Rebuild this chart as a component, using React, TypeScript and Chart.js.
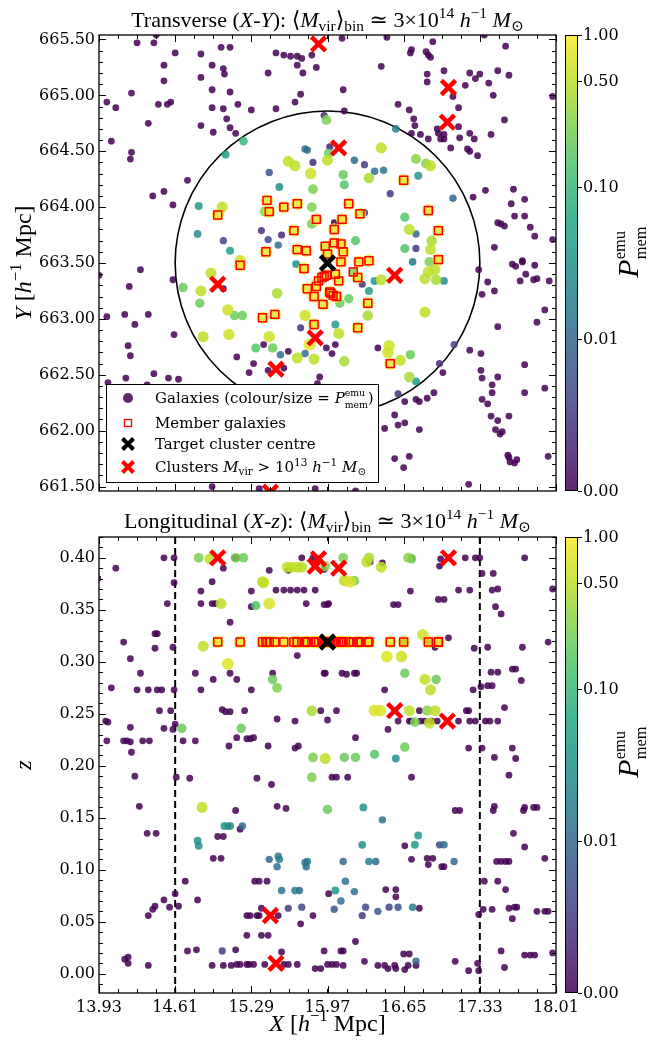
import React, { useEffect, useRef } from 'react';
import { Chart, registerables } from 'chart.js';
Chart.register(...registerables);

// ---------------- axes / ticks ----------------
const X_RANGE = [13.93, 18.01];
const Y_RANGE = [661.46, 665.54];
const Z_RANGE = [-0.0185, 0.42];
const X_TICKS = [13.93, 14.61, 15.29, 15.97, 16.65, 17.33, 18.01];
const X_TICK_LABELS = ['13.93', '14.61', '15.29', '15.97', '16.65', '17.33', '18.01'];
const Y_TICKS = [661.5, 662.0, 662.5, 663.0, 663.5, 664.0, 664.5, 665.0, 665.5];
const Y_TICK_LABELS = ['661.50', '662.00', '662.50', '663.00', '663.50', '664.00', '664.50', '665.00', '665.50'];
const Z_TICKS = [0, 0.05, 0.1, 0.15, 0.2, 0.25, 0.3, 0.35, 0.4];
const Z_TICK_LABELS = ['0.00', '0.05', '0.10', '0.15', '0.20', '0.25', '0.30', '0.35', '0.40'];
const CB_TICKS = [0, 0.01, 0.1, 0.5, 1];
const CB_TICK_LABELS = ['0.00', '0.01', '0.10', '0.50', '1.00'];
const CB_LINTHRESH = 0.01;

// ---------------- target / aperture ----------------
const TARGET_X = 15.97;
const TARGET_Y = 663.5;
const TARGET_Z = 0.319;
const APERTURE_R = 1.36;
const LOS_BOUNDS = [14.61, 17.33];

// ---------------- clusters (M_vir > 1e13) ----------------
const CLUSTER_X = [15.89, 17.05, 17.04, 16.07, 14.99, 16.57, 15.86, 15.51, 15.46];
const CLUSTER_Y = [665.46, 665.07, 664.76, 664.53, 663.31, 663.39, 662.83, 662.55, 661.45];
const CLUSTER_Z = [0.399, 0.4, 0.243, 0.39, 0.4, 0.253, 0.392, 0.01, 0.056];

// ---------------- member galaxies [X, Y, P] ----------------
const MEMBERS: [number, number, number][] = [
  [14.99, 663.93, 0.85], [15.43, 664.06, 0.85], [15.45, 663.96, 0.8], [15.58, 664.0, 0.85], [15.7, 664.03, 0.85],
  [15.87, 663.89, 0.9], [15.67, 663.79, 0.85], [15.7, 663.62, 0.9], [15.78, 663.61, 0.9], [15.95, 663.65, 0.6],
  [15.97, 663.58, 0.9], [16.65, 664.24, 0.85], [16.16, 664.03, 0.85], [16.26, 663.94, 0.85], [16.1, 663.89, 0.85],
  [16.03, 663.8, 0.85], [16.87, 663.97, 0.85], [16.96, 663.79, 0.85], [16.03, 663.68, 0.9], [16.09, 663.67, 0.9],
  [16.96, 663.53, 0.85], [15.19, 663.48, 0.85], [15.39, 663.01, 0.85], [15.5, 663.04, 0.85], [15.85, 662.95, 0.8],
  [15.79, 663.27, 0.9], [15.87, 663.29, 0.9], [15.85, 663.2, 0.9], [15.93, 663.13, 0.9], [15.89, 663.34, 0.9],
  [15.92, 663.37, 0.9], [15.94, 663.38, 0.9], [15.99, 663.24, 0.9], [16.09, 663.51, 0.9], [16.25, 663.51, 0.85],
  [16.34, 663.52, 0.85], [16.2, 663.42, 0.25], [16.24, 663.37, 0.85], [16.04, 663.4, 0.9], [16.07, 663.34, 0.9],
  [15.96, 663.39, 0.9], [16.0, 663.23, 0.9], [16.02, 663.21, 0.9], [16.05, 663.2, 0.9], [16.33, 663.14, 0.85],
  [16.24, 662.92, 0.85], [16.53, 662.6, 0.85], [15.42, 663.6, 0.85], [15.76, 663.45, 0.9], [16.11, 663.6, 0.9],
];

// ---------------- transverse field galaxies [X, Y, P] ----------------
const TRANSVERSE_GALAXIES: [number, number, number][] = [
  [14.44, 665.54, 0], [14.27, 665.47, 0], [14.42, 665.47, 0], [14.61, 665.38, 0], [14.84, 665.37, 0], [15.02, 665.43, 0],
  [15.1, 665.43, 0], [15.51, 665.38, 0], [15.58, 665.36, 0], [15.64, 665.35, 0], [15.7, 665.35, 0], [15.74, 665.33, 0],
  [15.83, 665.36, 0], [14.51, 665.27, 0], [14.94, 665.27, 0], [15.04, 665.24, 0], [15.05, 665.19, 0], [14.84, 665.16, 0],
  [14.51, 665.13, 0], [15.44, 665.2, 0], [15.7, 665.27, 0], [15.75, 665.2, 0], [15.87, 665.25, 0], [14.22, 665.02, 0],
  [14.94, 665.05, 0], [15.1, 665.03, 0], [15.73, 665.01, 0], [14.0, 664.94, 0], [14.08, 664.89, 0], [14.46, 664.92, 0],
  [14.54, 664.92, 0], [14.57, 664.94, 0], [14.94, 664.89, 0], [15.04, 664.88, 0], [15.17, 664.92, 0], [15.29, 664.87, 0],
  [15.51, 664.88, 0], [15.68, 664.94, 0], [14.37, 664.75, 0], [15.07, 664.79, 0], [14.84, 664.73, 0], [15.1, 664.71, 0],
  [15.15, 664.66, 0], [14.95, 664.67, 0], [14.04, 664.59, 0], [14.22, 664.49, 0], [14.21, 664.43, 0], [14.72, 664.24, 0],
  [14.41, 664.1, 0], [14.51, 664.14, 0], [14.59, 664.02, 0], [15.94, 664.82, 0.003],
  [16.1, 665.51, 0], [16.5, 665.52, 0], [16.72, 665.41, 0], [16.71, 665.38, 0], [16.91, 665.48, 0], [16.85, 665.39, 0],
  [16.87, 665.36, 0], [16.89, 665.34, 0], [17.37, 665.54, 0], [17.56, 665.44, 0], [16.45, 665.26, 0], [16.86, 665.19, 0],
  [16.86, 665.12, 0], [17.01, 665.22, 0], [17.24, 665.2, 0], [17.29, 665.15, 0], [17.33, 665.19, 0], [17.49, 665.22, 0],
  [17.59, 665.18, 0], [17.41, 665.11, 0], [17.2, 665.09, 0], [17.09, 664.99, 0], [17.45, 665.0, 0], [17.98, 664.99, 0],
  [16.11, 665.05, 0], [16.12, 664.86, 0], [16.6, 664.92, 0], [16.7, 664.87, 0], [16.74, 664.79, 0], [16.75, 664.73, 0],
  [16.72, 664.66, 0], [16.8, 664.65, 0], [16.87, 664.61, 0], [16.95, 664.7, 0], [16.96, 664.66, 0], [16.98, 664.61, 0],
  [17.01, 664.61, 0], [17.01, 664.65, 0], [17.14, 664.89, 0], [17.14, 664.72, 0], [17.15, 664.62, 0], [17.07, 664.53, 0],
  [17.24, 664.66, 0], [17.28, 664.61, 0], [17.22, 664.52, 0], [17.24, 664.5, 0], [17.31, 664.46, 0], [17.43, 664.65, 0],
  [17.55, 664.78, 0], [17.27, 664.09, 0], [17.38, 664.15, 0], [17.63, 664.16, 0], [17.61, 664.03, 0], [17.73, 664.07, 0],
  [17.64, 663.92, 0], [17.73, 663.92, 0], [17.49, 663.86, 0], [17.52, 663.85, 0], [17.55, 663.83, 0], [17.78, 663.82, 0],
  [17.82, 663.74, 0], [17.98, 663.71, 0], [17.46, 663.64, 0], [17.71, 663.52, 0], [15.99, 664.54, 0.003], [16.03, 663.86, 0],
  [14.3, 663.44, 0], [14.2, 663.29, 0], [14.59, 663.35, 0], [14.0, 663.02, 0], [14.16, 663.04, 0], [14.25, 662.95, 0],
  [14.37, 663.04, 0], [14.6, 662.86, 0], [14.19, 662.76, 0], [14.21, 662.67, 0], [14.01, 662.43, 0], [14.17, 662.47, 0],
  [14.42, 662.51, 0], [14.55, 662.47, 0], [14.64, 662.46, 0], [14.36, 662.41, 0], [13.93, 663.39, 0], [15.16, 662.66, 0],
  [15.27, 662.52, 0], [15.31, 662.6, 0], [15.04, 663.27, 0], [14.94, 661.5, 0], [15.36, 661.48, 0], [15.86, 661.48, 0],
  [15.62, 662.71, 0], [15.4, 662.77, 0], [15.44, 662.54, 0], [15.58, 662.56, 0], [15.88, 662.42, 0], [15.9, 662.48, 0],
  [15.96, 662.74, 0], [15.73, 662.92, 0.004],
  [17.32, 663.44, 0], [17.4, 663.33, 0], [17.35, 663.22, 0], [17.46, 663.25, 0], [17.49, 662.93, 0], [17.62, 663.49, 0],
  [17.65, 663.47, 0], [17.71, 663.51, 0], [17.74, 663.4, 0], [17.82, 663.48, 0], [17.81, 663.35, 0], [17.84, 663.36, 0],
  [17.69, 663.34, 0], [17.95, 663.34, 0], [17.91, 663.08, 0], [17.84, 662.97, 0], [17.24, 662.72, 0], [17.34, 662.69, 0],
  [17.73, 662.59, 0], [17.34, 662.54, 0], [17.35, 662.47, 0], [17.49, 662.48, 0], [17.44, 662.41, 0], [17.44, 662.34, 0],
  [17.35, 662.28, 0], [17.4, 662.24, 0], [17.43, 662.13, 0], [17.49, 662.09, 0], [17.59, 662.13, 0], [17.47, 662.01, 0],
  [17.51, 661.97, 0], [17.53, 661.99, 0], [17.91, 662.38, 0], [17.73, 662.34, 0], [17.58, 661.78, 0], [17.59, 661.76, 0],
  [17.6, 661.72, 0], [17.64, 661.71, 0], [17.66, 661.74, 0], [17.94, 661.77, 0], [17.23, 661.52, 0], [16.22, 661.46, 0],
  [17.0, 662.52, 0], [16.92, 662.34, 0], [16.86, 662.29, 0], [16.79, 662.26, 0], [16.76, 662.28, 0], [16.66, 662.26, 0],
  [16.57, 662.14, 0], [16.6, 662.05, 0], [16.66, 662.07, 0], [16.79, 662.01, 0], [16.48, 662.02, 0], [16.57, 661.75, 0],
  [16.7, 661.77, 0], [16.65, 661.67, 0], [16.42, 662.74, 0], [16.04, 662.77, 0], [16.01, 662.69, 0],
  [16.97, 662.6, 0.004], [16.6, 662.33, 0.004], [16.28, 663.31, 0.004], [17.1, 662.77, 0.006],
  // coloured galaxies inside the aperture
  [15.96, 664.78, 0.25], [15.22, 664.59, 0.1], [15.06, 664.47, 0.04], [15.77, 664.52, 0.012], [15.79, 664.51, 0.01],
  [15.84, 664.4, 0.004], [15.98, 664.48, 0.2], [15.97, 664.42, 0.5], [15.62, 664.41, 0.5], [15.68, 664.37, 0.5],
  [15.82, 664.3, 0.6], [15.45, 664.31, 0.008], [15.54, 664.18, 0.03], [15.84, 664.16, 0.25], [14.82, 664.01, 0.04],
  [15.03, 664.0, 0.5], [15.83, 664.0, 0.25], [15.41, 663.96, 0.3], [15.83, 663.85, 0.25], [14.81, 663.76, 0.025],
  [15.38, 663.79, 0.004], [15.44, 663.71, 0.006], [15.56, 663.75, 0.003], [15.53, 663.66, 0.012], [15.04, 663.7, 0.006],
  [15.1, 663.61, 0.05], [15.19, 663.52, 0.6],
  [16.58, 664.7, 0.02], [16.21, 664.42, 0.01], [16.3, 664.38, 0.005], [16.39, 664.32, 0.012], [16.47, 664.33, 0.015],
  [16.45, 664.53, 0.5], [16.76, 664.43, 0.3], [16.85, 664.39, 0.3], [16.89, 664.37, 0.5], [16.78, 664.28, 0.04],
  [16.11, 664.29, 0.2], [16.12, 664.2, 0.15], [16.34, 664.26, 0.4], [16.53, 664.12, 0.005], [17.09, 664.08, 0.01],
  [16.3, 663.95, 0.005], [16.66, 663.91, 0.15], [16.7, 663.8, 0.5], [16.76, 663.76, 0.01], [16.9, 663.7, 0.4],
  [16.89, 663.62, 0.5], [16.66, 663.63, 0.15], [16.76, 663.63, 0.005], [16.22, 663.7, 0.15],
  [14.93, 663.41, 0.5], [14.84, 663.25, 0.5], [14.68, 663.28, 0.2], [14.83, 663.14, 0.2], [15.08, 663.08, 0.6],
  [15.14, 663.03, 0.2], [15.21, 663.03, 0.2], [14.86, 662.84, 0.5], [15.09, 662.86, 0.6], [15.52, 663.23, 0.4],
  [15.45, 662.84, 0.6], [15.33, 662.74, 0.15], [15.48, 662.74, 0.2], [15.55, 662.68, 0.012], [15.77, 662.69, 0.012],
  [15.7, 662.65, 0.5], [15.85, 662.64, 0.5], [15.77, 663.03, 0.6], [15.69, 663.49, 0.03], [15.81, 662.77, 0.8],
  [16.73, 663.51, 0.015], [17.01, 663.34, 0.03], [16.88, 663.51, 0.25], [16.93, 663.44, 0.5], [16.84, 663.36, 0.5],
  [16.87, 663.42, 0.5], [16.94, 663.35, 0.4], [16.39, 663.34, 0.04], [16.45, 663.35, 0.5], [16.34, 663.25, 0.04],
  [16.16, 663.18, 0.2], [16.08, 663.14, 0.2], [16.33, 663.03, 0.4], [16.84, 663.06, 0.5], [16.04, 662.95, 0.04],
  [16.07, 662.87, 0.5], [16.52, 662.76, 0.6], [16.51, 662.7, 0.6], [16.62, 662.63, 0.5], [16.71, 662.68, 0.2],
  [16.12, 662.62, 0.4], [16.7, 662.48, 0.4], [16.76, 662.44, 0.04],
];

// ---------------- longitudinal field galaxies [X, z, P] ----------------
const LONGITUDINAL_GALAXIES: [number, number, number][] = [
  [14.51, 0.4, 0], [14.6, 0.4, 0], [15.14, 0.4, 0], [15.16, 0.4, 0], [15.74, 0.4, 0], [15.84, 0.4, 0], [14.08, 0.39, 0],
  [15.04, 0.39, 0], [15.45, 0.388, 0], [15.62, 0.388, 0], [15.94, 0.389, 0], [14.6, 0.376, 0], [13.92, 0.38, 0],
  [14.94, 0.377, 0], [14.84, 0.368, 0], [15.29, 0.368, 0], [15.51, 0.369, 0], [15.58, 0.369, 0], [15.64, 0.369, 0],
  [15.7, 0.369, 0], [15.76, 0.369, 0], [15.86, 0.369, 0], [14.54, 0.356, 0], [14.84, 0.356, 0], [14.94, 0.356, 0],
  [14.97, 0.356, 0], [15.29, 0.353, 0], [15.78, 0.356, 0], [15.94, 0.355, 0], [15.97, 0.355, 0], [15.1, 0.338, 0],
  [14.43, 0.327, 0], [14.45, 0.327, 0], [14.15, 0.319, 0], [14.43, 0.313, 0], [14.59, 0.314, 0], [15.7, 0.306, 0],
  [14.21, 0.303, 0], [14.3, 0.289, 0], [14.79, 0.289, 0], [15.1, 0.289, 0], [15.48, 0.289, 0], [15.94, 0.289, 0],
  [14.95, 0.283, 0], [15.16, 0.283, 0], [14.04, 0.275, 0], [14.27, 0.273, 0], [14.37, 0.273, 0], [14.45, 0.273, 0],
  [14.49, 0.273, 0], [14.6, 0.273, 0], [14.84, 0.273, 0], [15.29, 0.273, 0], [14.47, 0.253, 0], [14.57, 0.253, 0],
  [15.03, 0.254, 0], [15.06, 0.252, 0], [15.1, 0.252, 0], [15.23, 0.253, 0], [15.91, 0.253, 0], [13.99, 0.243, 0],
  [14.01, 0.242, 0], [15.52, 0.245, 0], [15.68, 0.243, 0], [15.97, 0.244, 0], [14.21, 0.237, 0], [14.51, 0.236, 0],
  [14.59, 0.235, 0], [14.61, 0.24, 0], [14.0, 0.224, 0], [14.15, 0.224, 0], [14.18, 0.224, 0], [14.21, 0.223, 0],
  [14.32, 0.224, 0], [14.38, 0.224, 0], [14.68, 0.224, 0], [14.79, 0.224, 0], [15.16, 0.227, 0], [15.25, 0.226, 0],
  [15.28, 0.226, 0], [15.31, 0.227, 0], [15.09, 0.219, 0], [15.44, 0.219, 0], [15.68, 0.217, 0], [15.71, 0.219, 0],
  [14.22, 0.213, 0], [14.25, 0.19, 0], [14.62, 0.189, 0], [14.74, 0.188, 0], [15.34, 0.188, 0], [15.47, 0.182, 0],
  [14.29, 0.161, 0], [15.15, 0.157, 0], [15.52, 0.161, 0], [15.6, 0.159, 0], [15.08, 0.142, 0], [15.19, 0.139, 0],
  [14.36, 0.135, 0], [14.44, 0.135, 0], [14.99, 0.132, 0], [15.04, 0.132, 0], [14.95, 0.111, 0], [15.02, 0.111, 0],
  [14.7, 0.089, 0], [15.32, 0.089, 0], [15.36, 0.089, 0], [15.43, 0.089, 0], [15.98, 0.077, 0], [14.61, 0.077, 0],
  [14.51, 0.071, 0], [14.56, 0.064, 0], [14.64, 0.065, 0], [14.81, 0.071, 0], [14.43, 0.065, 0], [14.41, 0.062, 0],
  [14.37, 0.056, 0], [15.38, 0.063, 0], [15.25, 0.056, 0], [15.28, 0.056, 0], [15.34, 0.056, 0], [15.36, 0.056, 0],
  [15.53, 0.056, 0], [15.84, 0.056, 0], [15.73, 0.048, 0], [15.25, 0.037, 0], [15.38, 0.037, 0], [15.44, 0.037, 0],
  [14.72, 0.022, 0], [14.8, 0.023, 0], [15.15, 0.023, 0], [15.56, 0.021, 0], [15.94, 0.022, 0],
  [14.16, 0.014, 0], [14.19, 0.016, 0], [14.19, 0.01, 0], [14.37, 0.008, 0], [14.94, 0.008, 0], [15.04, 0.008, 0],
  [15.11, 0.008, 0], [15.16, 0.009, 0], [15.19, 0.009, 0], [15.25, 0.009, 0], [15.27, 0.009, 0], [15.31, 0.009, 0],
  [15.41, 0.009, 0], [15.58, 0.009, 0], [15.62, 0.009, 0], [15.7, 0.009, 0], [15.86, 0.005, 0], [15.91, 0.005, 0],
  [15.97, 0.009, 0],
  [17.2, 0.4, 0], [17.29, 0.4, 0], [17.33, 0.4, 0], [16.98, 0.399, 0], [16.72, 0.4, 0], [17.73, 0.4, 0], [16.35, 0.396, 0],
  [16.46, 0.395, 0], [16.97, 0.392, 0], [17.35, 0.385, 0], [17.45, 0.385, 0], [16.71, 0.368, 0], [17.14, 0.369, 0],
  [17.24, 0.369, 0], [17.44, 0.369, 0], [17.49, 0.37, 0], [17.98, 0.37, 0], [16.96, 0.36, 0], [17.01, 0.36, 0],
  [15.98, 0.356, 0], [16.56, 0.355, 0], [16.6, 0.355, 0], [17.47, 0.353, 0], [17.52, 0.346, 0], [16.65, 0.319, 0],
  [16.87, 0.319, 0], [16.93, 0.314, 0], [17.05, 0.323, 0], [17.28, 0.313, 0], [17.4, 0.314, 0], [17.71, 0.314, 0],
  [17.94, 0.319, 0], [15.95, 0.289, 0], [16.1, 0.289, 0], [16.14, 0.288, 0], [16.21, 0.289, 0], [16.23, 0.289, 0],
  [16.48, 0.273, 0], [17.27, 0.273, 0], [17.34, 0.276, 0], [17.4, 0.277, 0], [17.44, 0.277, 0], [17.43, 0.29, 0],
  [17.49, 0.29, 0], [17.62, 0.293, 0], [17.65, 0.293, 0], [17.7, 0.282, 0], [16.05, 0.253, 0], [16.79, 0.253, 0],
  [17.21, 0.253, 0], [17.23, 0.253, 0], [17.55, 0.256, 0], [16.6, 0.243, 0], [16.7, 0.243, 0], [16.72, 0.243, 0],
  [16.8, 0.243, 0], [16.84, 0.243, 0], [16.9, 0.243, 0], [16.95, 0.243, 0], [17.14, 0.243, 0], [17.24, 0.243, 0],
  [17.29, 0.243, 0], [17.38, 0.243, 0], [17.42, 0.243, 0], [17.49, 0.243, 0], [16.51, 0.235, 0], [16.22, 0.227, 0],
  [17.23, 0.217, 0], [17.35, 0.217, 0], [17.62, 0.217, 0], [17.65, 0.207, 0], [17.46, 0.208, 0], [16.01, 0.189, 0],
  [16.05, 0.189, 0], [16.15, 0.189, 0], [16.72, 0.189, 0], [17.59, 0.191, 0], [17.11, 0.157, 0], [17.15, 0.157, 0],
  [17.46, 0.161, 0], [17.45, 0.157, 0], [17.73, 0.16, 0], [17.72, 0.157, 0], [17.81, 0.16, 0], [17.84, 0.16, 0],
  [17.63, 0.135, 0], [17.73, 0.122, 0], [16.66, 0.123, 0], [16.72, 0.11, 0], [16.86, 0.111, 0], [16.91, 0.111, 0],
  [16.87, 0.105, 0], [16.99, 0.103, 0], [17.01, 0.103, 0], [17.48, 0.108, 0], [17.52, 0.108, 0], [17.56, 0.108, 0],
  [17.59, 0.108, 0], [17.91, 0.111, 0], [17.37, 0.089, 0], [17.49, 0.089, 0], [17.56, 0.081, 0], [16.49, 0.081, 0],
  [16.58, 0.081, 0], [16.58, 0.074, 0], [16.79, 0.063, 0], [17.32, 0.057, 0], [17.36, 0.062, 0], [17.44, 0.062, 0],
  [17.59, 0.063, 0], [17.64, 0.064, 0], [17.66, 0.064, 0], [17.62, 0.053, 0], [17.84, 0.06, 0], [17.91, 0.06, 0],
  [17.94, 0.06, 0], [16.22, 0.031, 0], [16.09, 0.022, 0], [16.11, 0.022, 0], [16.65, 0.019, 0], [16.7, 0.019, 0],
  [17.52, 0.022, 0], [17.73, 0.018, 0], [17.78, 0.018, 0], [17.82, 0.018, 0], [17.98, 0.02, 0], [16.01, 0.009, 0],
  [16.05, 0.009, 0], [16.11, 0.008, 0], [16.3, 0.012, 0], [16.42, 0.008, 0], [16.48, 0.008, 0], [16.51, 0.005, 0],
  [16.57, 0.008, 0], [16.58, 0.005, 0], [16.66, 0.004, 0], [16.69, 0.008, 0], [16.76, 0.008, 0], [17.11, 0.012, 0],
  [17.23, 0.003, 0], [17.31, 0.01, 0], [17.32, 0.003, 0], [17.55, 0.006, 0],
  // coloured
  [14.82, 0.4, 0.25], [14.92, 0.399, 0.5], [15.15, 0.4, 0.25], [15.22, 0.4, 0.2], [15.61, 0.391, 0.5], [15.65, 0.391, 0.5],
  [15.7, 0.391, 0.5], [15.74, 0.391, 0.5], [15.95, 0.392, 0.3], [15.39, 0.377, 0.5], [15.4, 0.376, 0.5], [15.02, 0.356, 0.5],
  [15.33, 0.354, 0.15], [15.45, 0.356, 0.7], [14.86, 0.315, 0.5], [15.08, 0.298, 0.7], [15.48, 0.283, 0.2],
  [15.52, 0.275, 0.25], [15.83, 0.253, 0.4], [14.67, 0.236, 0.2], [15.2, 0.236, 0.2], [15.84, 0.208, 0.25],
  [15.95, 0.207, 0.5], [15.83, 0.189, 0.25], [14.85, 0.16, 0.5], [15.97, 0.158, 0.2], [15.05, 0.142, 0.04],
  [15.1, 0.142, 0.04], [15.21, 0.142, 0.012], [14.81, 0.128, 0.03], [14.82, 0.123, 0.03], [15.45, 0.11, 0.01],
  [15.53, 0.113, 0.015], [15.54, 0.11, 0.02], [15.52, 0.103, 0.012], [15.77, 0.107, 0.015], [15.78, 0.103, 0.012],
  [15.79, 0.108, 0.015], [15.56, 0.08, 0.015], [15.68, 0.08, 0.02], [15.72, 0.08, 0.01], [15.62, 0.063, 0.005],
  [15.74, 0.064, 0.006], [15.03, 0.022, 0.005],
  [16.11, 0.4, 0.25], [16.34, 0.4, 0.4], [16.32, 0.396, 0.5], [16.69, 0.4, 0.3], [16.72, 0.399, 0.2], [16.45, 0.391, 0.5],
  [16.12, 0.378, 0.5], [16.17, 0.377, 0.7], [16.21, 0.378, 0.25], [16.82, 0.326, 0.6], [16.5, 0.305, 0.7],
  [16.63, 0.305, 0.6], [16.66, 0.289, 0.2], [16.84, 0.283, 0.5], [16.89, 0.273, 0.5], [16.94, 0.283, 0.2],
  [16.39, 0.253, 0.7], [16.44, 0.253, 0.7], [16.7, 0.253, 0.5], [16.86, 0.253, 0.3], [16.93, 0.253, 0.5],
  [16.75, 0.242, 0.25], [16.88, 0.241, 0.5], [16.66, 0.218, 0.2], [16.58, 0.207, 0.03], [16.39, 0.211, 0.15],
  [16.22, 0.208, 0.2], [16.12, 0.208, 0.2], [16.29, 0.16, 0.03], [16.46, 0.148, 0.012], [16.78, 0.133, 0.04],
  [16.75, 0.124, 0.04], [16.28, 0.124, 0.03], [16.97, 0.124, 0.006], [17.01, 0.124, 0.012], [16.34, 0.108, 0.02],
  [16.4, 0.108, 0.012], [16.11, 0.108, 0.01], [17.1, 0.108, 0.01], [16.13, 0.089, 0.012], [16.04, 0.08, 0.04],
  [16.21, 0.079, 0.012], [16.09, 0.07, 0.012], [16.03, 0.062, 0.008], [16.31, 0.064, 0.006], [16.28, 0.056, 0.005],
  [16.42, 0.06, 0.008], [16.52, 0.064, 0.006], [16.6, 0.064, 0.008], [16.73, 0.064, 0.02], [16.76, 0.012, 0.01],
];

// ---------------- styling helpers ----------------
const SERIF = '"Liberation Serif", "DejaVu Serif", serif';
const DSERIF = '"DejaVu Serif", serif';
const ALPHA = 0.85;
const VIRIDIS = [
  [68, 1, 84], [72, 36, 117], [65, 68, 135], [53, 95, 141], [42, 120, 142], [33, 145, 140],
  [34, 168, 132], [68, 191, 112], [122, 209, 81], [189, 223, 38], [253, 231, 37],
];
function viridis(t: number, a = ALPHA) {
  const tt = Math.max(0, Math.min(1, t)) * 10;
  const i = Math.min(9, Math.floor(tt));
  const u = tt - i;
  const c = VIRIDIS[i].map((v, k) => Math.round(v + (VIRIDIS[i + 1][k] - v) * u));
  return `rgba(${c[0]},${c[1]},${c[2]},${a})`;
}
function symlogNorm(p: number) {
  if (p <= CB_LINTHRESH) return p / CB_LINTHRESH / 3;
  return Math.min(1, (1 + Math.log10(p / CB_LINTHRESH)) / 3);
}
const radiusFor = (p: number) => 3.4 + 3 * Math.sqrt(p);

type Seg = { t: string; it?: boolean; k?: number; dy?: number; sub?: string; subDy?: number };
const SUP = { k: 0.7, dy: -0.42 };
const SUB = { k: 0.7, dy: 0.2 };

function drawRich(ctx: CanvasRenderingContext2D, segs: Seg[], x: number, y: number, size: number, fam: string, align: 'left' | 'center' | 'right') {
  const fontOf = (s: Seg) => `${s.it ? 'italic ' : ''}${size * (s.k ?? 1)}px ${fam}`;
  const widths = segs.map((s) => {
    ctx.font = fontOf(s);
    let w = ctx.measureText(s.t).width;
    if (s.sub !== undefined) w = Math.max(w, ctx.measureText(s.sub).width);
    return w;
  });
  const total = widths.reduce((a, b) => a + b, 0);
  let cx = align === 'center' ? x - total / 2 : align === 'right' ? x - total : x;
  ctx.textAlign = 'left';
  ctx.textBaseline = 'alphabetic';
  segs.forEach((s, i) => {
    ctx.font = fontOf(s);
    ctx.fillText(s.t, cx, y + (s.dy ?? 0) * size);
    if (s.sub !== undefined) ctx.fillText(s.sub, cx, y + (s.subDy ?? 0) * size);
    cx += widths[i];
  });
}
function drawRotated(ctx: CanvasRenderingContext2D, segs: Seg[], x: number, y: number, size: number, fam: string) {
  ctx.save();
  ctx.translate(x, y);
  ctx.rotate(-Math.PI / 2);
  drawRich(ctx, segs, 0, 0, size, fam, 'center');
  ctx.restore();
}
function drawX(ctx: CanvasRenderingContext2D, x: number, y: number, h: number, lw: number, color: string) {
  ctx.save();
  ctx.strokeStyle = color;
  ctx.lineWidth = lw;
  ctx.beginPath();
  ctx.moveTo(x - h, y - h); ctx.lineTo(x + h, y + h);
  ctx.moveTo(x + h, y - h); ctx.lineTo(x - h, y + h);
  ctx.stroke();
  ctx.restore();
}

const titleSegs = (name: string, a: string, b: string): Seg[] => [
  { t: name + ' (' }, { t: a, it: true }, { t: '-' }, { t: b, it: true }, { t: '): ⟨' }, { t: 'M', it: true },
  { t: 'vir', ...SUB }, { t: '⟩' }, { t: 'bin', ...SUB }, { t: ' ≃ 3×10' }, { t: '14', ...SUP }, { t: ' ' },
  { t: 'h', it: true }, { t: '−1', ...SUP }, { t: ' ' }, { t: 'M', it: true }, { t: '⊙', ...SUB },
];
const coordLabel = (v: string): Seg[] => [{ t: v, it: true }, { t: ' [' }, { t: 'h', it: true }, { t: '−1', ...SUP }, { t: ' Mpc]' }];
const CB_LABEL: Seg[] = [{ t: 'P', it: true }, { t: 'emu', k: 0.55, dy: -0.42, sub: 'mem', subDy: 0.28 }];

type PanelCfg = {
  title: Seg[]; titleBase: number; yLabel: Seg[]; yMinorStep: number; yMajor: number[];
  showXLabel: boolean; legend: boolean; circle: boolean; dashed: boolean; cbLabelY: number;
};

function minorTicks(lo: number, hi: number, step: number, start: number) {
  const out: number[] = [];
  for (let v = start; v <= hi + 1e-9; v += step) if (v >= lo - 1e-9) out.push(v);
  return out;
}

function makePlugin(cfg: PanelCfg) {
  return {
    id: 'decor',
    beforeDatasetsDraw(chart: any) {
      const { ctx, chartArea: a, scales } = chart;
      ctx.save();
      ctx.beginPath();
      ctx.rect(a.left, a.top, a.right - a.left, a.bottom - a.top);
      ctx.clip();
      ctx.strokeStyle = '#000';
      if (cfg.circle) {
        const cx = scales.x.getPixelForValue(TARGET_X);
        const cy = scales.y.getPixelForValue(TARGET_Y);
        const rx = scales.x.getPixelForValue(TARGET_X + APERTURE_R) - cx;
        const ry = cy - scales.y.getPixelForValue(TARGET_Y + APERTURE_R);
        ctx.lineWidth = 1.6;
        ctx.beginPath();
        ctx.ellipse(cx, cy, rx, ry, 0, 0, Math.PI * 2);
        ctx.stroke();
      }
      if (cfg.dashed) {
        ctx.lineWidth = 2;
        ctx.setLineDash([7, 4]);
        LOS_BOUNDS.forEach((v) => {
          const px = scales.x.getPixelForValue(v);
          ctx.beginPath();
          ctx.moveTo(px, a.top);
          ctx.lineTo(px, a.bottom);
          ctx.stroke();
        });
      }
      ctx.restore();
    },
    afterDraw(chart: any) {
      const { ctx, chartArea: a, scales } = chart;
      ctx.save();
      // ticks (inward, all sides)
      ctx.strokeStyle = '#000';
      ctx.lineWidth = 1;
      const xMinor = minorTicks(X_RANGE[0], X_RANGE[1], 0.17, X_TICKS[0]);
      const yMinor = minorTicks(scales.y.min, scales.y.max, cfg.yMinorStep, cfg.yMajor[0] - 10 * cfg.yMinorStep);
      const xt = (v: number, len: number) => {
        const px = Math.round(scales.x.getPixelForValue(v)) + 0.5;
        ctx.beginPath();
        ctx.moveTo(px, a.bottom); ctx.lineTo(px, a.bottom - len);
        ctx.moveTo(px, a.top); ctx.lineTo(px, a.top + len);
        ctx.stroke();
      };
      const yt = (v: number, len: number) => {
        const py = Math.round(scales.y.getPixelForValue(v)) + 0.5;
        ctx.beginPath();
        ctx.moveTo(a.left, py); ctx.lineTo(a.left + len, py);
        ctx.moveTo(a.right, py); ctx.lineTo(a.right - len, py);
        ctx.stroke();
      };
      xMinor.forEach((v) => xt(v, 4));
      X_TICKS.forEach((v) => xt(v, 7));
      yMinor.forEach((v) => yt(v, 4));
      cfg.yMajor.forEach((v) => yt(v, 7));
      // frame
      ctx.lineWidth = 1.3;
      ctx.strokeRect(a.left, a.top, a.right - a.left, a.bottom - a.top);

      // colorbar
      const cbL = 565, cbR = 578, top = a.top, bot = a.bottom, h = bot - top;
      for (let py = Math.floor(top); py < bot; py++) {
        const t = (bot - (py + 0.5)) / h;
        ctx.fillStyle = viridis(t);
        ctx.fillRect(cbL, py, cbR - cbL, 1);
      }
      ctx.lineWidth = 1;
      ctx.strokeStyle = '#000';
      ctx.strokeRect(cbL + 0.5, top + 0.5, cbR - cbL - 1, h - 1);
      ctx.fillStyle = '#000';
      ctx.font = `16px ${DSERIF}`;
      ctx.textAlign = 'left';
      ctx.textBaseline = 'middle';
      CB_TICKS.forEach((v, i) => {
        const py = Math.round(bot - symlogNorm(v) * h) + 0.5;
        ctx.beginPath();
        ctx.moveTo(cbR, py); ctx.lineTo(cbR + 4, py);
        ctx.stroke();
        ctx.fillText(CB_TICK_LABELS[i], cbR + 5, py);
      });
      drawRotated(ctx, CB_LABEL, 638, cfg.cbLabelY, 30, SERIF);

      // title + axis labels
      ctx.fillStyle = '#000';
      drawRich(ctx, cfg.title, (a.left + a.right) / 2, cfg.titleBase, 22, SERIF, 'center');
      drawRotated(ctx, cfg.yLabel, 31, (a.top + a.bottom) / 2, 24, SERIF);
      if (cfg.showXLabel) drawRich(ctx, coordLabel('X'), (a.left + a.right) / 2, chart.height - 10, 24, SERIF, 'center');

      // legend
      if (cfg.legend) {
        const L = 106.5, T = 384.5, W = 272, H = 98;
        ctx.fillStyle = '#fff';
        ctx.fillRect(L, T, W, H);
        ctx.strokeStyle = '#000';
        ctx.lineWidth = 1;
        ctx.strokeRect(L, T, W, H);
        const mx = 128;
        const rows = [398, 423, 444, 467];
        ctx.fillStyle = viridis(0);
        ctx.beginPath();
        ctx.arc(mx, rows[0], 5, 0, Math.PI * 2);
        ctx.fill();
        ctx.strokeStyle = 'red';
        ctx.lineWidth = 1.3;
        ctx.strokeRect(mx - 3.5, rows[1] - 3.5, 7, 7);
        drawX(ctx, mx, rows[2], 5.5, 4, '#000');
        drawX(ctx, mx, rows[3], 5.5, 4, 'red');
        ctx.fillStyle = '#000';
        const tx = 155;
        drawRich(ctx, [{ t: 'Galaxies (colour/size = ' }, { t: 'P', it: true }, { t: 'emu', k: 0.62, dy: -0.45, sub: 'mem', subDy: 0.32 }, { t: ')' }], tx, rows[0] + 5, 15, DSERIF, 'left');
        drawRich(ctx, [{ t: 'Member galaxies' }], tx, rows[1] + 5, 15, DSERIF, 'left');
        drawRich(ctx, [{ t: 'Target cluster centre' }], tx, rows[2] + 5, 15, DSERIF, 'left');
        drawRich(ctx, [{ t: 'Clusters ' }, { t: 'M', it: true }, { t: 'vir', ...SUB }, { t: ' > 10' }, { t: '13', ...SUP }, { t: ' ' }, { t: 'h', it: true }, { t: '−1', ...SUP }, { t: ' ' }, { t: 'M', it: true }, { t: '⊙', ...SUB }], tx, rows[3] + 5, 15, DSERIF, 'left');
      }
      ctx.restore();
    },
  };
}

function buildConfig(cfg: PanelCfg, field: [number, number, number][], useZ: boolean, yRange: number[], yTicks: number[], yLabels: string[], padTop: number, xHeight: number) {
  const memberPts: [number, number, number][] = MEMBERS.map(([x, y, p]) => [x, useZ ? TARGET_Z : y, p]);
  const gal = [...field, ...memberPts].sort((u, v) => u[2] - v[2]);
  const clusterPts = CLUSTER_X.map((x, i) => ({ x, y: useZ ? CLUSTER_Z[i] : CLUSTER_Y[i] }));
  return {
    type: 'scatter' as const,
    data: {
      datasets: [
        { label: 'clusters', data: clusterPts, pointStyle: 'crossRot', pointRadius: 10, borderColor: 'red', backgroundColor: 'red', pointBorderWidth: 4.5, clip: 0 },
        { label: 'target', data: [{ x: TARGET_X, y: useZ ? TARGET_Z : TARGET_Y }], pointStyle: 'crossRot', pointRadius: 10, borderColor: '#000', backgroundColor: '#000', pointBorderWidth: 4.5, clip: 0 },
        { label: 'members', data: memberPts.map(([x, y]) => ({ x, y })), pointStyle: 'rect', pointRadius: 5.6, borderColor: 'red', backgroundColor: 'rgba(0,0,0,0)', pointBorderWidth: 1.5, clip: 0 },
        {
          label: 'galaxies', data: gal.map(([x, y]) => ({ x, y })), pointStyle: 'circle',
          pointRadius: gal.map((g) => radiusFor(g[2])), pointBackgroundColor: gal.map((g) => viridis(symlogNorm(g[2]))),
          pointBorderWidth: 0, borderWidth: 0, clip: 0,
        },
      ],
    },
    options: {
      animation: false, responsive: false, devicePixelRatio: 1, events: [],
      layout: { padding: { top: padTop, right: 95, left: 0, bottom: 0 } },
      plugins: { legend: { display: false }, tooltip: { enabled: false } },
      scales: {
        x: {
          type: 'linear', min: X_RANGE[0], max: X_RANGE[1], position: 'bottom',
          afterBuildTicks: (s: any) => { s.ticks = X_TICKS.map((v) => ({ value: v })); },
          afterFit: (s: any) => { s.height = xHeight; },
          grid: { display: false, drawTicks: false }, border: { display: false },
          ticks: { display: cfg.showXLabel, autoSkip: false, maxRotation: 0, padding: 5, color: '#000', font: { family: DSERIF, size: 16 }, callback: (_v: any, i: number) => X_TICK_LABELS[i] },
        },
        y: {
          type: 'linear', min: yRange[0], max: yRange[1],
          afterBuildTicks: (s: any) => { s.ticks = yTicks.map((v) => ({ value: v })); },
          afterFit: (s: any) => { s.width = 99; },
          grid: { display: false, drawTicks: false }, border: { display: false },
          ticks: { autoSkip: false, padding: 4, color: '#000', font: { family: DSERIF, size: 16 }, callback: (_v: any, i: number) => yLabels[i] },
        },
      },
    },
    plugins: [makePlugin(cfg)],
  };
}

export default function App() {
  const topRef = useRef<HTMLCanvasElement>(null);
  const botRef = useRef<HTMLCanvasElement>(null);
  useEffect(() => {
    const topCfg: PanelCfg = {
      title: titleSegs('Transverse', 'X', 'Y'), titleBase: 27, yLabel: coordLabel('Y'), yMinorStep: 0.1, yMajor: Y_TICKS,
      showXLabel: false, legend: true, circle: true, dashed: false, cbLabelY: 252,
    };
    const botCfg: PanelCfg = {
      title: titleSegs('Longitudinal', 'X', 'z'), titleBase: 18, yLabel: [{ t: 'z', it: true }], yMinorStep: 0.01, yMajor: Z_TICKS,
      showXLabel: true, legend: false, circle: false, dashed: true, cbLabelY: 242,
    };
    const c1 = new Chart(topRef.current!, buildConfig(topCfg, TRANSVERSE_GALAXIES, false, Y_RANGE, Y_TICKS, Y_TICK_LABELS, 35, 19) as any);
    const c2 = new Chart(botRef.current!, buildConfig(botCfg, LONGITUDINAL_GALAXIES, true, Z_RANGE, Z_TICKS, Z_TICK_LABELS, 27, 48) as any);
    return () => { c1.destroy(); c2.destroy(); };
  }, []);
  return (
    <div style={{ position: 'absolute', left: 0, top: 0, width: 651, height: 1041, background: '#fff' }}>
      <canvas ref={topRef} width={651} height={510} style={{ position: 'absolute', left: 0, top: 0, width: 651, height: 510 }} />
      <canvas ref={botRef} width={651} height={531} style={{ position: 'absolute', left: 0, top: 510, width: 651, height: 531 }} />
    </div>
  );
}
